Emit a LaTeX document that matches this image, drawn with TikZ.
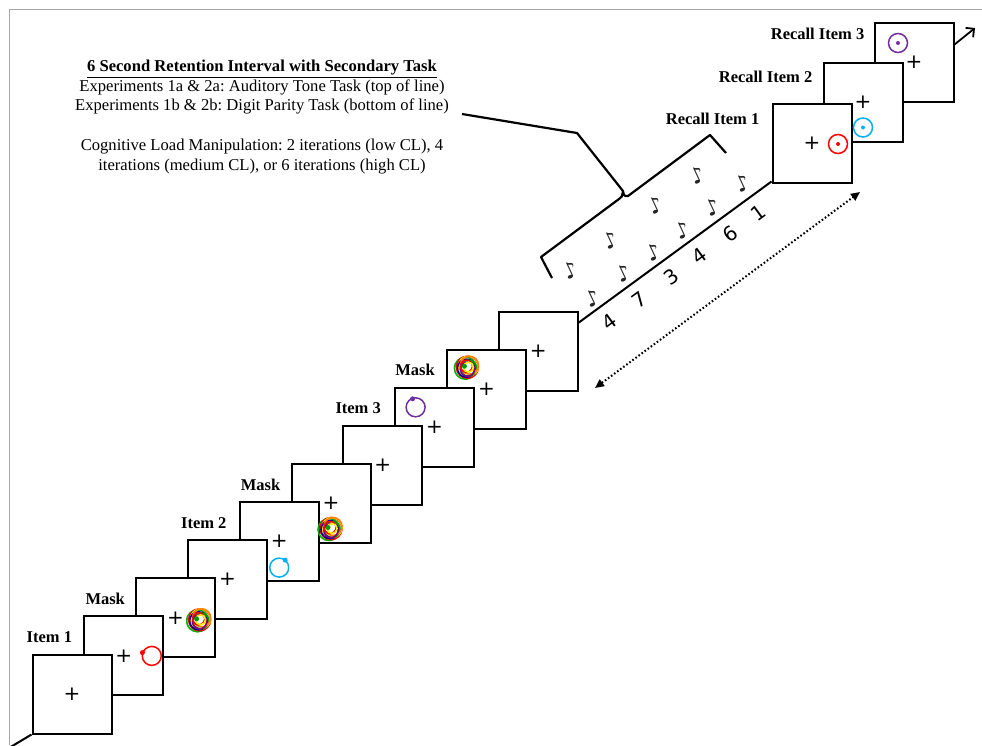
\documentclass[tikz,border=0pt]{standalone}
\usepackage{fontspec}
\setmainfont{Liberation Serif}
\newfontfamily\dejavu{DejaVu Sans}
\usetikzlibrary{calc,arrows.meta}
\definecolor{probered}{HTML}{FF0000}
\definecolor{probecyan}{HTML}{00B0F0}
\definecolor{probepurple}{HTML}{7030A0}
\frenchspacing

\begin{document}
\begin{tikzpicture}[x=1pt, y=-1pt,
  slide/.style={draw, line width=2pt, fill=white, minimum size=79pt, inner sep=0pt,
    font=\dejavu\fontsize{20}{20}\selectfont},
  framelabel/.style={font=\bfseries\fontsize{16.5}{18}\selectfont, inner sep=0pt},
  digit/.style={font=\dejavu\fontsize{20}{20}\selectfont, inner sep=1pt},
  tone/.style={font=\dejavu\fontsize{22}{22}\selectfont, text=black!85, rotate=25, inner sep=0pt},
  probe/.style={line width=1.5pt},
]
  \useasboundingbox (0,0) rectangle (982,745);
  % Frame
  \draw[gray!70, line width=0.8pt] (9,745) -- (9,9) -- (982,9);
  % Encoding slides (back to front)
  \foreach \i in {10,9,...,1}
    \node[slide] (s\i) at ({72+51.8*(\i-1)}, {694-38.1*(\i-1)}) {+};
  % Recall slides (back to front)
  \foreach \i in {3,2,1}
    \node[slide] (r\i) at ({812+51*(\i-1)}, {143-40.5*(\i-1)}) {+};
  % Item probes: open circle with a dot on the rim
  \foreach \n/\dx/\dy/\ex/\ey/\c in {s2/28/0/-9.4/-3.3/probered, s5/0/26/6/-7.5/probecyan, s8/-19/-20/-3/-8.5/probepurple} {
    \draw[probe, \c] ($(\n)+(\dx,\dy)$) circle[radius=9.5pt];
    \fill[\c] ($(\n)+(\dx+\ex,\dy+\ey)$) circle[radius=2.5pt];
  }
  % Recall probes: circle with a centre dot
  \foreach \n/\dx/\dy/\c in {r1/26/1/probered, r2/0/25/probecyan, r3/-16/-19/probepurple} {
    \draw[probe, \c] ($(\n)+(\dx,\dy)$) circle[radius=9.5pt];
    \fill[\c] ($(\n)+(\dx,\dy)$) circle[radius=2pt];
  }
  % Colour masks
  \foreach \n/\dx/\dy in {s3/24/2, s6/0/25, s9/-19/-22} {
    \foreach \ox/\oy/\r/\c in {-2/1/11/green!70!black, 0/0/11/red, 1/-1/10/yellow!90!orange, -1/1/9/blue!60!black,
        1/1/8/green!60!black, 2/-2/9/orange, 0/2/7/violet, -1/-1/6/red, 1/0/5/yellow}
      \draw[line width=1.6pt, \c] ($(\n)+(\dx+\ox,\dy+\oy)$) circle[radius=\r pt];
    \fill[white] ($(\n)+(\dx+1,\dy-1)$) circle[radius=3pt];
    \fill[green!60!black] ($(\n)+(\dx-3,\dy-1)$) circle[radius=2.5pt];
  }
  % Item labels
  \foreach \i/\txt/\dx in {1/Item 1/-5, 2/Mask/2, 4/Item 2/-6, 5/Mask/2, 7/Item 3/-7, 8/Mask/1}
    \node[framelabel, anchor=base west] (lab\i) at ($(s\i.north west)+(\dx,-11)$) {\txt};
  \foreach \i/\dx/\dy in {1/-12/22, 2/-10/20, 3/-9/18}
    \node[framelabel, anchor=base east] (rlab\i) at ($(r\i.north west)+(\dx,\dy)$) {Recall Item \i};
  % Retention interval line
  \coordinate (ret a) at ($(s10.north east)+(0,12)$);
  \coordinate (ret b) at ($(r1.south west)+(0,-2)$);
  \draw[line width=2pt] (ret a) -- (ret b);
  \foreach \d/\t in {4/0.105, 7/0.26, 3/0.425, 4/0.57, 6/0.73, 1/0.88}
    \path (ret a) -- (ret b) node[digit, sloped, pos=\t, below=9pt] (d\t) {\d};
  % Tones
  \foreach \x/\y in {570/270, 592/298, 610/240, 623/273, 655/205, 653/252, 682/230, 697/175, 712/207, 742/183}
    \node[tone] (n-\x) at (\x,\y) {♪};
  % Brace and pointer
  \coordinate (tip) at (623,191);
  \draw[line width=2.2pt, line join=round] (552,278) -- (541,257) -- (619,199)
    .. controls (622,197) .. (tip) .. controls (624,196) .. (628,196) -- (710,135) -- (726,153);
  \draw[line width=2.2pt, line join=round] (tip) -- (577,133) -- (462,114);
  % Task description
  \node[align=center, anchor=north, inner sep=0pt, font=\fontsize{16.6}{19.5}\selectfont] (task) at (262,60)
    {\underline{\textbf{6 Second Retention Interval with Secondary Task}}\\
     Experiments 1a \& 2a: Auditory Tone Task (top of line)\\
     Experiments 1b \& 2b: Digit Parity Task (bottom of line)\\[20.5pt]
     Cognitive Load Manipulation: 2 iterations (low CL), 4\\
     iterations (medium CL), or 6 iterations (high CL)};
  % Interval span
  \coordinate (span a) at (595,388);
  \coordinate (span b) at (860,192);
  \draw[line width=2pt, dash pattern=on 1.6pt off 2.2pt,
    {Triangle[length=9pt,width=8pt]}-{Triangle[length=9pt,width=8pt]}] (span a) -- (span b);
  % Time axis ends
  \draw[line width=2pt] (s1.south west) -- (4,751);
  \draw[line width=1.8pt, -{Straight Barb[length=6pt,width=12pt]}] ($(r3.north east)+(0,23)$) -- (975,28);
\end{tikzpicture}
\end{document}
